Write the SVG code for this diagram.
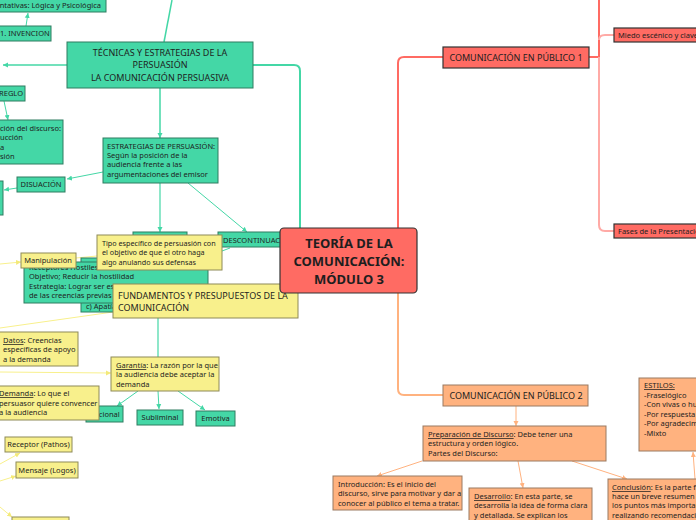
<svg xmlns="http://www.w3.org/2000/svg" width="696" height="520" viewBox="0 0 696 520">
<style>
.g{fill:#44d7a6;stroke:#2e7d60;stroke-width:1}
.y{fill:#f8f08c;stroke:#8e8a58;stroke-width:1}
.r{fill:#ff6b63;stroke:#333;stroke-width:1.2}
.o{fill:#ffb27f;stroke:#9a7a62;stroke-width:1}
text{font-family:"Noto Sans","Open Sans","DejaVu Sans",sans-serif;fill:#1e1e1e}
.s{font-size:7.5px}
.m{font-size:9px}
.c{text-anchor:middle}
.u{text-decoration:underline}
.cg{stroke:#44d7a6;fill:none}
.cy{stroke:#f8f08c;fill:none}
.cr{stroke:#ff6b63;fill:none}
.cp{stroke:#ffaaa6;fill:none}
.co{stroke:#ffb27f;fill:none}
</style>
<defs>
<marker id="ag" markerWidth="6" markerHeight="6" refX="5" refY="3" orient="auto" markerUnits="userSpaceOnUse"><path d="M0,0.5 L5,3 L0,5.5 Z" fill="#44d7a6"/></marker>
<marker id="ay" markerWidth="6" markerHeight="6" refX="5" refY="3" orient="auto" markerUnits="userSpaceOnUse"><path d="M0,0.5 L5,3 L0,5.5 Z" fill="#f3e97a"/></marker>
<marker id="ao" markerWidth="6" markerHeight="6" refX="5" refY="3" orient="auto" markerUnits="userSpaceOnUse"><path d="M0,0.5 L5,3 L0,5.5 Z" fill="#ffb27f"/></marker>
</defs>

<g id="connectors">
<path class="cg" stroke-width="2" d="M253,65 L294,65 Q300,65 300,71 L300,228"/>
<path class="cg" stroke-width="1.5" d="M164,42 L172,0"/>
<path class="cg" stroke-width="1.5" d="M67,65 L3,65" marker-end="url(#ag)"/>
<path class="cg" stroke-width="1" d="M26,26 L28,13" marker-end="url(#ag)"/>
<path class="cg" stroke-width="1" d="M4,101 L8,120" marker-end="url(#ag)"/>
<path class="cg" stroke-width="1.5" d="M160,88 L160,138" marker-end="url(#ag)"/>
<path class="cg" stroke-width="1" d="M103,172 L67,179" marker-end="url(#ag)"/>
<path class="cg" stroke-width="1" d="M17,188 L4,190" marker-end="url(#ag)"/>
<path class="cg" stroke-width="1.2" d="M160,183 L160,232" marker-end="url(#ag)"/>
<path class="cg" stroke-width="1" d="M188,183 L247,232" marker-end="url(#ag)"/>
<path class="cg" stroke-width="1" d="M222,251 L230,248"/>
<path class="cg" stroke-width="1.2" d="M158,318 L158,357"/>
<path class="cg" stroke-width="1" d="M138,391 L117,406" marker-end="url(#ag)"/>
<path class="cg" stroke-width="1" d="M158,391 L159,409" marker-end="url(#ag)"/>
<path class="cg" stroke-width="1" d="M178,391 L205,410" marker-end="url(#ag)"/>
<path class="cy" stroke-width="1" d="M0,264 L21,262" marker-end="url(#ay)"/>
<path class="cy" stroke-width="1" d="M76,258 L97,256"/>
<path class="cy" stroke-width="1" d="M0,328 L113,312"/>
<path class="cy" stroke-width="1" d="M0,372 L111,373" marker-end="url(#ay)"/>
<path class="cy" stroke-width="1" d="M0,464 L20,453" marker-end="url(#ay)"/>
<path class="cy" stroke-width="1" d="M0,481 L16,476" marker-end="url(#ay)"/>
<path class="cy" stroke-width="1" d="M0,507 L12,517" marker-end="url(#ay)"/>
<path class="cr" stroke-width="2" d="M398,228 L398,63 Q398,57 404,57 L443,57"/>
<path class="cr" stroke-width="2" d="M589,57 L599,57 M599,57 L599,0"/>
<path class="cp" stroke-width="2" d="M599,57 L599,225 Q599,231 605,231 L614,231"/>
<path class="cp" stroke-width="2" d="M599,40 Q599,35 605,35 L614,35"/>
<path class="co" stroke-width="2" d="M398,293 L398,389 Q398,395 404,395 L443,395"/>
<path class="co" stroke-width="1" d="M516,406 L516,426" marker-end="url(#ao)"/>
<path class="co" stroke-width="1" d="M422,461 L377,476" marker-end="url(#ao)"/>
<path class="co" stroke-width="1" d="M518,461 L523,488" marker-end="url(#ao)"/>
<path class="co" stroke-width="1" d="M572,461 L627,479" marker-end="url(#ao)"/>
<path class="co" stroke-width="1" d="M695,479 L693,452" marker-end="url(#ao)"/>
</g>

<g id="n-argumentativas"><rect class="g" x="-20" y="-6" width="126" height="18"/><text class="s" x="101" y="8" text-anchor="end">mentativas: Lógica y Psicológica</text></g>
<g id="n-invencion"><rect class="g" x="-10" y="26" width="61" height="15"/><text class="s" x="0" y="36">1. INVENCION</text></g>
<g id="n-tecnicas"><rect class="g" x="67" y="42" width="186" height="46"/><text class="m c" x="160" y="56">TÉCNICAS Y ESTRATEGIAS DE LA</text><text class="m c" x="160" y="68">PERSUASIÓN</text><text class="m c" x="160" y="81">LA COMUNICACIÓN PERSUASIVA</text></g>
<g id="n-arreglo"><rect class="g" x="-10" y="86" width="35" height="15"/><text class="s" x="23" y="96" text-anchor="end">REGLO</text></g>
<g id="n-disposicion"><rect class="g" x="-10" y="120" width="73" height="44"/><text class="s" x="0" y="131">ción del discurso:</text><text class="s" x="0" y="140">ucción</text><text class="s" x="0" y="150">a</text><text class="s" x="0" y="159">sión</text></g>
<g id="n-estrategias"><rect class="g" x="103" y="138" width="115" height="45"/><text class="s" x="107" y="149">ESTRATEGIAS DE PERSUASIÓN:</text><text class="s" x="107" y="158">Según la posición de la</text><text class="s" x="107" y="167">audiencia frente a las</text><text class="s" x="107" y="177">argumentaciones del emisor</text></g>
<g id="n-disuacion"><rect class="g" x="17" y="177" width="48" height="15"/><text class="s c" x="41" y="187">DISUACIÓN</text></g>
<g id="n-leftbox"><rect class="g" x="-10" y="181" width="13" height="34"/></g>
<g id="n-green2"><rect class="g" x="133" y="232" width="54" height="20"/></g>
<g id="n-descontinuacion"><rect class="g" x="218" y="232" width="70" height="15"/><text class="s" x="223" y="243">DESCONTINUACIÓN</text></g>
<g id="n-apatia"><rect class="g" x="81" y="258" width="40" height="54"/><text class="s" x="86" y="309">c) Apatía</text></g>
<g id="n-hostiles"><rect class="g" x="24" y="262" width="184" height="41"/><text class="s" x="29" y="270">Receptores Hostiles:</text><text class="s" x="29" y="279">Objetivo; Reducir la hostilidad</text><text class="s" x="29" y="289">Estrategia: Lograr ser es</text><text class="s" x="29" y="298">de las creencias previas</text></g>
<g id="n-tipo"><rect class="y" x="97" y="235" width="125" height="35"/><text x="102" y="246" font-size="7.2">Tipo específico de persuasión con</text><text x="102" y="255" font-size="7.2">el objetivo de que el otro haga</text><text x="102" y="265" font-size="7.2">algo anulando sus defensas</text></g>
<g id="n-manipulacion"><rect class="y" x="21" y="253" width="55" height="15"/><text class="s c" x="48" y="263">Manipulación</text></g>
<g id="n-fundamentos"><rect class="y" x="113" y="284" width="185" height="34"/><text class="m" x="118" y="299">FUNDAMENTOS Y PRESUPUESTOS DE LA</text><text class="m" x="118" y="311">COMUNICACIÓN</text></g>
<g id="n-datos"><rect class="y" x="-10" y="332" width="88" height="34"/><text class="s" x="3" y="343"><tspan class="u">Datos</tspan>: Creencias</text><text class="s" x="3" y="352">específicas de apoyo</text><text class="s" x="3" y="362">a la demanda</text></g>
<g id="n-racional"><rect class="g" x="86" y="406" width="37" height="16"/><text class="s" x="90" y="417">Racional</text></g>
<g id="n-demanda"><rect class="y" x="-10" y="386" width="109" height="34"/><text class="s" x="-1" y="396"><tspan class="u">Demanda</tspan>: Lo que el</text><text class="s" x="-1" y="406">persuasor quiere convencer</text><text class="s" x="-1" y="415">a la audiencia</text></g>
<g id="n-garantia"><rect class="y" x="111" y="357" width="108" height="34"/><text class="s" x="116" y="368"><tspan class="u">Garantía</tspan>: La razón por la que</text><text class="s" x="116" y="377">la audiencia debe aceptar la</text><text class="s" x="116" y="387">demanda</text></g>
<g id="n-subliminal"><rect class="g" x="137" y="410" width="46" height="15"/><text class="s c" x="160" y="420">Subliminal</text></g>
<g id="n-emotiva"><rect class="g" x="196" y="411" width="39" height="15"/><text class="s c" x="215.5" y="421">Emotiva</text></g>
<g id="n-receptor"><rect class="y" x="5" y="437" width="67" height="15"/><text class="s c" x="38.5" y="447">Receptor (Pathos)</text></g>
<g id="n-mensaje"><rect class="y" x="16" y="462" width="62" height="16"/><text class="s c" x="47" y="473">Mensaje (Logos)</text></g>
<g id="n-bottomyellow"><rect class="y" x="12" y="517" width="57" height="12"/></g>

<g id="n-center"><rect class="r" x="280" y="228" width="137" height="65" rx="4" stroke-width="1.5"/><text class="c" x="349" y="248" font-size="13" font-weight="bold">TEORÍA DE LA</text><text class="c" x="349" y="266" font-size="13" font-weight="bold">COMUNICACIÓN:</text><text class="c" x="349" y="284" font-size="13" font-weight="bold">MÓDULO 3</text></g>

<g id="n-publico1"><rect class="r" x="443" y="47" width="146" height="21" stroke-width="1.5"/><text class="m c" x="516" y="61">COMUNICACIÓN EN PÚBLICO 1</text></g>
<g id="n-miedo"><rect class="r" x="614" y="28" width="100" height="14" stroke="#8a3c38"/><text class="s" x="618" y="38">Miedo escénico y claves</text></g>
<g id="n-fases"><rect class="r" x="614" y="224" width="100" height="14" stroke="#8a3c38"/><text class="s" x="618" y="234">Fases de la Presentación</text></g>

<g id="n-publico2"><rect class="o" x="443" y="385" width="145" height="21" stroke="#333" stroke-width="1.5"/><text class="m c" x="516" y="399">COMUNICACIÓN EN PÚBLICO 2</text></g>
<g id="n-preparacion"><rect class="o" x="423" y="426" width="183" height="35"/><text class="s" x="428" y="437"><tspan class="u">Preparación de Discurso</tspan>: Debe tener una</text><text class="s" x="428" y="446">estructura y orden lógico.</text><text class="s" x="428" y="456">Partes del Discurso:</text></g>
<g id="n-introduccion"><rect class="o" x="333" y="476" width="129" height="34"/><text class="s" x="338" y="487">Introducción: Es el inicio del</text><text class="s" x="338" y="496">discurso, sirve para motivar y dar a</text><text class="s" x="338" y="506">conocer al público el tema a tratar.</text></g>
<g id="n-desarrollo"><rect class="o" x="469" y="488" width="123" height="40"/><text class="s" x="474" y="499"><tspan class="u">Desarrollo</tspan>: En esta parte, se</text><text class="s" x="474" y="508">desarrolla la idea de forma clara</text><text class="s" x="474" y="518">y detallada. Se explican los</text></g>
<g id="n-conclusion"><rect class="o" x="608" y="479" width="100" height="50"/><text class="s" x="612" y="490"><tspan class="u">Conclusión</tspan>: Es la parte final</text><text class="s" x="612" y="499">hace un breve resumen de</text><text class="s" x="612" y="508">los puntos más importantes</text><text class="s" x="612" y="518">realizando recomendaciones</text></g>
<g id="n-estilos"><rect class="o" x="639" y="378" width="70" height="73"/><text class="s u" x="644" y="388">ESTILOS:</text><text class="s" x="644" y="398">-Fraselógico</text><text class="s" x="644" y="407">-Con vivas o hurras</text><text class="s" x="644" y="417">-Por respuesta</text><text class="s" x="644" y="426">-Por agradecimiento</text><text class="s" x="644" y="436">-Mixto</text></g>
</svg>
